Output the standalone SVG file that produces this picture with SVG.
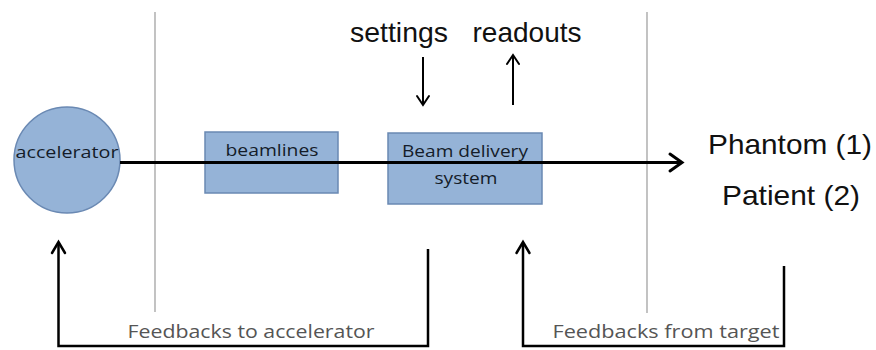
<svg xmlns="http://www.w3.org/2000/svg" width="876" height="350" viewBox="0 0 876 350">
<style>
.node{fill:#95b3d7;stroke:#6a89b3;stroke-width:1.5}
.lbl{font-family:"Open Sans","Liberation Sans",sans-serif;font-size:17px;fill:#141c29;text-anchor:middle}
.big{font-family:"Liberation Sans",Arial,sans-serif;font-size:28px;fill:#111;text-anchor:middle}
.fb{font-family:"Open Sans","Liberation Sans",sans-serif;font-size:18px;fill:#555;text-anchor:middle}
.sep{stroke:#9a9a9a;stroke-width:1.2;fill:none}
.ln{stroke:#000;fill:none;stroke-linecap:butt;stroke-linejoin:miter}
.ah{stroke:#000;fill:none;stroke-linecap:round;stroke-linejoin:miter}
</style>
<rect width="876" height="350" fill="#fff"/>
<g id="separators">
<line class="sep" x1="155" y1="12" x2="155" y2="312"/>
<line class="sep" x1="647" y1="12" x2="647" y2="313"/>
</g>
<g id="accelerator">
<circle class="node" cx="67" cy="160" r="53"/>
<text class="lbl" x="67" y="158" font-size="18" textLength="103" lengthAdjust="spacingAndGlyphs">accelerator</text>
</g>
<g id="beamlines">
<rect class="node" x="205" y="132" width="133" height="61"/>
<text class="lbl" x="272" y="156" textLength="93" lengthAdjust="spacingAndGlyphs">beamlines</text>
</g>
<g id="bds">
<rect class="node" x="388" y="133" width="154" height="71"/>
<text class="lbl" x="465" y="157" textLength="126" lengthAdjust="spacingAndGlyphs">Beam delivery</text>
<text class="lbl" x="466" y="184" textLength="63" lengthAdjust="spacingAndGlyphs">system</text>
</g>
<g id="settings">
<text class="big" x="399" y="42" textLength="98" lengthAdjust="spacingAndGlyphs">settings</text>
</g>
<g id="readouts">
<text class="big" x="527" y="42" textLength="109" lengthAdjust="spacingAndGlyphs">readouts</text>
</g>
<g id="target">
<text class="big" x="790" y="154" textLength="164" lengthAdjust="spacingAndGlyphs">Phantom (1)</text>
<text class="big" x="791" y="205" textLength="138" lengthAdjust="spacingAndGlyphs">Patient (2)</text>
</g>
<g id="connectors">
<line class="ln" x1="120" y1="162.5" x2="681" y2="162.5" stroke-width="3"/>
<path class="ah" d="M670,154 L682,162.5 L670,171" stroke-width="3"/>
<line class="ln" x1="423" y1="57" x2="423" y2="104" stroke-width="2"/>
<path class="ah" d="M417,96 L423,105 L429,96" stroke-width="2"/>
<line class="ln" x1="513" y1="105" x2="513" y2="56" stroke-width="2"/>
<path class="ah" d="M507,64 L513,55 L519,64" stroke-width="2"/>
<path class="ln" d="M428,249 L428,346 L58.5,346 L58.5,243" stroke-width="2.5"/>
<path class="ah" d="M52,253 L58.5,242 L65,253" stroke-width="2.5"/>
<path class="ln" d="M784,266 L784,346 L523,346 L523,243" stroke-width="2.5"/>
<path class="ah" d="M516.5,253 L523,242 L529.5,253" stroke-width="2.5"/>
</g>
<g id="labels">
<text class="fb" x="251" y="338" textLength="247" lengthAdjust="spacingAndGlyphs">Feedbacks to accelerator</text>
<text class="fb" x="666" y="338" textLength="227" lengthAdjust="spacingAndGlyphs">Feedbacks from target</text>
</g>
</svg>
